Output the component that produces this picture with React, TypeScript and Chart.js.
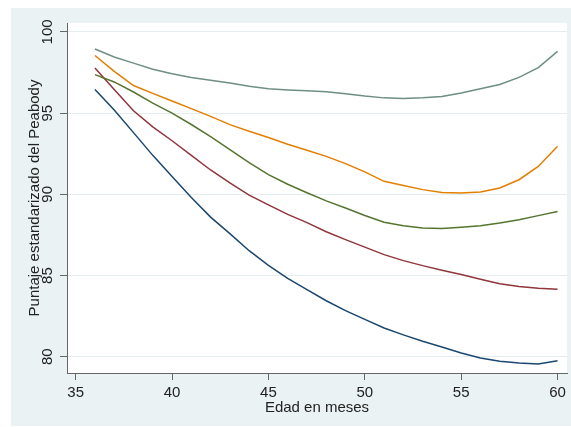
import React, { useEffect, useRef } from 'react';
import { Chart, registerables } from 'chart.js';

Chart.register(...registerables);

const months = [36, 37, 38, 39, 40, 41, 42, 43, 44, 45, 46, 47, 48, 49, 50, 51, 52, 53, 54, 55, 56, 57, 58, 59, 60];

const tealSeries = [98.95, 98.46, 98.08, 97.7, 97.43, 97.2, 97.02, 96.86, 96.66, 96.5, 96.43, 96.38, 96.31, 96.2, 96.05, 95.94, 95.9, 95.94, 96.03, 96.24, 96.5, 96.76, 97.2, 97.8, 98.8];
const orangeSeries = [98.55, 97.57, 96.7, 96.22, 95.75, 95.28, 94.8, 94.29, 93.88, 93.5, 93.08, 92.72, 92.34, 91.89, 91.38, 90.8, 90.55, 90.29, 90.12, 90.09, 90.15, 90.39, 90.9, 91.72, 92.96];
const greenSeries = [97.37, 96.92, 96.3, 95.62, 95.0, 94.3, 93.55, 92.75, 91.95, 91.21, 90.62, 90.1, 89.6, 89.16, 88.7, 88.28, 88.07, 87.93, 87.89, 87.97, 88.07, 88.24, 88.44, 88.69, 88.95];
const redSeries = [97.78, 96.45, 95.15, 94.15, 93.3, 92.4, 91.5, 90.7, 89.95, 89.35, 88.77, 88.26, 87.7, 87.21, 86.75, 86.29, 85.92, 85.61, 85.33, 85.06, 84.77, 84.5, 84.33, 84.22, 84.15];
const blueSeries = [96.45, 95.2, 93.8, 92.4, 91.1, 89.8, 88.6, 87.58, 86.53, 85.63, 84.83, 84.13, 83.45, 82.84, 82.3, 81.77, 81.35, 80.95, 80.6, 80.23, 79.93, 79.72, 79.62, 79.56, 79.75];

const xTicks = [35, 40, 45, 50, 55, 60];
const yTicks = [80, 85, 90, 95, 100];

const xTitle = 'Edad en meses';
const yTitle = 'Puntaje estandarizado del Peabody';

const FONT = "'Liberation Sans', Arial, sans-serif";

export default function App() {
  const ref = useRef<HTMLCanvasElement>(null);

  useEffect(() => {
    document.documentElement.style.overflow = 'hidden';
    document.body.style.overflow = 'hidden';
    const canvas = ref.current;
    if (!canvas) return;

    const bgPlugin = {
      id: 'bgPlugin',
      beforeDraw(chart: any) {
        const { ctx, chartArea } = chart;
        ctx.save();
        ctx.fillStyle = '#EAF2F3';
        ctx.fillRect(0, 0, chart.width, chart.height);
        ctx.fillStyle = '#FFFFFF';
        ctx.fillRect(chartArea.left, chartArea.top, chartArea.right - chartArea.left, chartArea.bottom - chartArea.top);
        ctx.restore();
      },
    };

    const mk = (vals: number[]) => months.map((m, i) => ({ x: m, y: vals[i] }));
    const ds = (vals: number[], color: string) => ({
      data: mk(vals),
      borderColor: color,
      backgroundColor: color,
      borderWidth: 1.5,
      pointRadius: 0,
      tension: 0,
      fill: false,
    });

    const chart = new Chart(canvas, {
      type: 'line',
      data: {
        datasets: [
          ds(tealSeries, '#6E8E84'),
          ds(orangeSeries, '#E37E00'),
          ds(greenSeries, '#55752F'),
          ds(redSeries, '#90353B'),
          ds(blueSeries, '#1A476F'),
        ],
      },
      options: {
        responsive: false,
        animation: false,
        devicePixelRatio: 1,
        layout: { padding: { top: 15, right: 4, left: 0, bottom: 0 } },
        plugins: { legend: { display: false }, tooltip: { enabled: false } },
        scales: {
          x: {
            type: 'linear',
            min: 34.55,
            max: 60.49,
            afterBuildTicks: (scale: any) => {
              scale.ticks = xTicks.map((v) => ({ value: v }));
            },
            afterFit: (scale: any) => {
              scale.height = 53;
            },
            grid: { drawOnChartArea: false, drawTicks: true, tickLength: 7, tickColor: '#666666', lineWidth: 1 },
            border: { display: true, color: '#666666', width: 1 },
            ticks: { color: '#222222', font: { family: FONT, size: 15 }, padding: 4, maxRotation: 0 },
            title: { display: true, text: xTitle, color: '#222222', font: { family: FONT, size: 15 }, padding: { top: 0, bottom: 9 } },
          },
          y: {
            type: 'linear',
            min: 79.0,
            max: 100.55,
            afterBuildTicks: (scale: any) => {
              scale.ticks = yTicks.map((v) => ({ value: v }));
            },
            afterFit: (scale: any) => {
              scale.width = 56;
            },
            grid: { drawOnChartArea: true, color: '#E4EDEF', drawTicks: true, tickLength: 7, tickColor: '#666666', lineWidth: 1 },
            border: { display: true, color: '#666666', width: 1 },
            ticks: { color: '#222222', font: { family: FONT, size: 15 }, padding: 0, minRotation: 90, maxRotation: 90, crossAlign: 'center' },
            title: { display: true, text: yTitle, color: '#222222', font: { family: FONT, size: 15 }, padding: { top: 15, bottom: 0 } },
          },
        },
      },
      plugins: [bgPlugin],
    } as any);

    return () => chart.destroy();
  }, []);

  return (
    <canvas
      ref={ref}
      width={560}
      height={418}
      style={{ position: 'absolute', left: 11, top: 8, width: 560, height: 418, display: 'block' }}
    />
  );
}
